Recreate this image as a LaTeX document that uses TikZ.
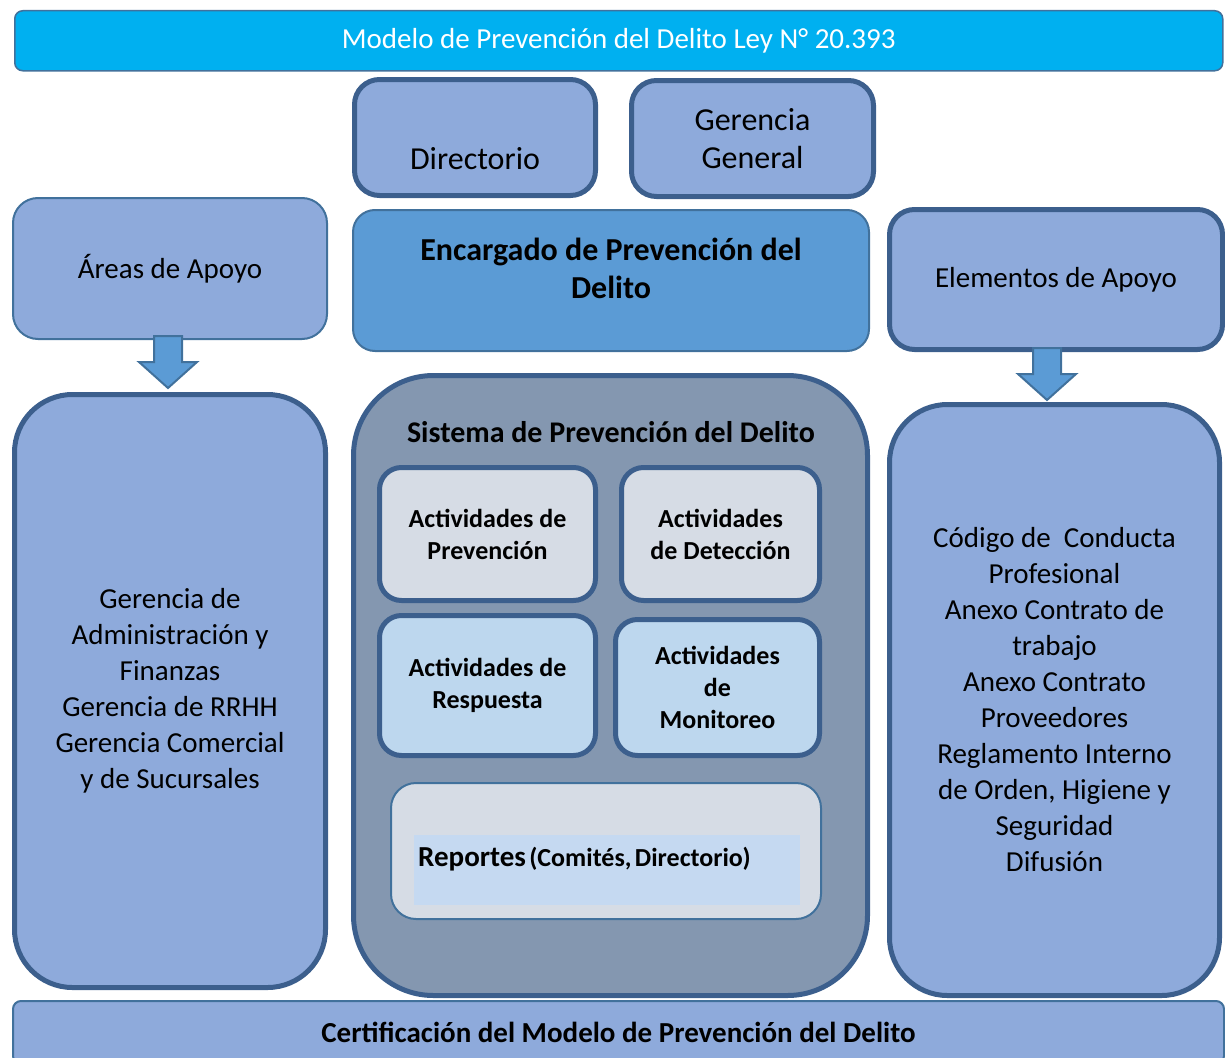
\documentclass[tikz,border=0pt]{standalone}
\usepackage{fontspec}
\setmainfont{Carlito}
\usetikzlibrary{positioning,calc}

\definecolor{cyanbar}{HTML}{00B0F0}
\definecolor{edge}{HTML}{3C5F8D}
\definecolor{thinedge}{HTML}{41719C}
\definecolor{lightbl}{HTML}{8EAADB}
\definecolor{midbl}{HTML}{5B9BD5}
\definecolor{slate}{HTML}{8497B0}
\definecolor{greybl}{HTML}{D6DCE5}
\definecolor{lightact}{HTML}{BDD7EE}
\definecolor{repbl}{HTML}{C5D9F1}

\begin{document}
\begin{tikzpicture}[x=1pt, y=-1pt,
    box/.style={rectangle, rounded corners=25pt, draw=edge, line width=5pt, fill=lightbl, anchor=north west, align=center, font=\fontsize{29}{36}\selectfont},
    thinbox/.style={box, draw=thinedge, line width=2pt},
    bigbox/.style={box, rounded corners=58pt},
    actbox/.style={box, rounded corners=22pt, fill=greybl, font=\bfseries\fontsize{26}{32}\selectfont},
    blockarrow/.style={draw=thinedge, line width=2pt, fill=midbl, line join=miter}
]
\useasboundingbox (0,0) rectangle (1225,1057);

% Title bar
\node[thinbox, rounded corners=8pt, fill=cyanbar, line width=1.5pt, minimum width=1208, minimum height=60, text=white] (title) at (14,10) {Modelo de Prevención del Delito Ley N° 20.393};

% Top row
\node[box, minimum width=241, minimum height=116, font=\fontsize{32}{38}\selectfont] (dir) at (352,77) {\strut\\Directorio};
\node[box, minimum width=242, minimum height=116, font=\fontsize{32}{38}\selectfont] (gg) at (629,78) {Gerencia\\General};

% Second row
\node[thinbox, minimum width=314, minimum height=141] (areas) at (12,197) {Áreas de Apoyo};
\node[thinbox, rounded corners=22pt, fill=midbl, minimum width=516, minimum height=141, font=\bfseries\fontsize{32}{38}\selectfont] (epd) at (352,209) {Encargado de Prevención del\\Delito\\[-14pt]};
\node[box, minimum width=333, minimum height=140] (elem) at (887,207) {Elementos de Apoyo};

% Big columns
\node[bigbox, minimum width=311, minimum height=593] (areasbox) at (12,392) {Gerencia de\\Administración y\\Finanzas\\Gerencia de RRHH\\Gerencia Comercial\\y de Sucursales};
\node[bigbox, rounded corners=80pt, fill=slate, minimum width=514, minimum height=620] (spd) at (351,373) {};
\node[bigbox, minimum width=330, minimum height=591] (elembox) at (887,402) {Código de~ Conducta\\Profesional\\Anexo Contrato de\\trabajo\\Anexo Contrato\\Proveedores\\Reglamento Interno\\de Orden, Higiene y\\Seguridad\\Difusión};

% Inside the system
\node[font=\bfseries\fontsize{30}{36}\selectfont] (spdtitle) at (611,432) {Sistema de Prevención del Delito};
\node[actbox, minimum width=216, minimum height=133] (prev) at (377,465) {Actividades de\\Prevención};
\node[actbox, minimum width=198, minimum height=133] (det) at (619,465) {Actividades\\de Detección};
\node[actbox, fill=lightact, minimum width=216, minimum height=140] (resp) at (377,613) {Actividades de\\Respuesta};
\node[actbox, fill=lightact, minimum width=204, minimum height=136] (mon) at (613,617) {Actividades\\de\\Monitoreo};
\node[thinbox, fill=greybl, minimum width=430, minimum height=136] (rep) at (390,782) {};
\node[fill=repbl, anchor=north west, inner xsep=4pt, inner ysep=0pt, text width=378pt, align=left, text height=31pt, text depth=39pt] (reptext) at (414,835) {\bfseries\fontsize{29}{34}\selectfont Reportes \fontsize{26}{30}\selectfont(Comités, Directorio)};

% Bottom bar
\node[thinbox, rounded corners=8pt, minimum width=1211, minimum height=63, font=\bfseries\fontsize{29}{36}\selectfont] (cert) at (12,1000) {Certificación del Modelo de Prevención del Delito};

% Block arrows
\draw[blockarrow] ($(areas.south)+(-16,-4)$) -- ++(0,26) -- ++(-15,0) -- ($(areasbox.north)+(-2,-4)$) -- ($(areas.south)+(27,22)$) -- ++(-15,0) -- ++(0,-26) -- cycle;
\draw[blockarrow] ($(elem.south)+(-23,-4)$) -- ++(0,26) -- ++(-15,0) -- ($(elembox.north)+(-7.5,-2)$) -- ($(elem.south)+(20,22)$) -- ++(-15,0) -- ++(0,-26) -- cycle;

\end{tikzpicture}
\end{document}
